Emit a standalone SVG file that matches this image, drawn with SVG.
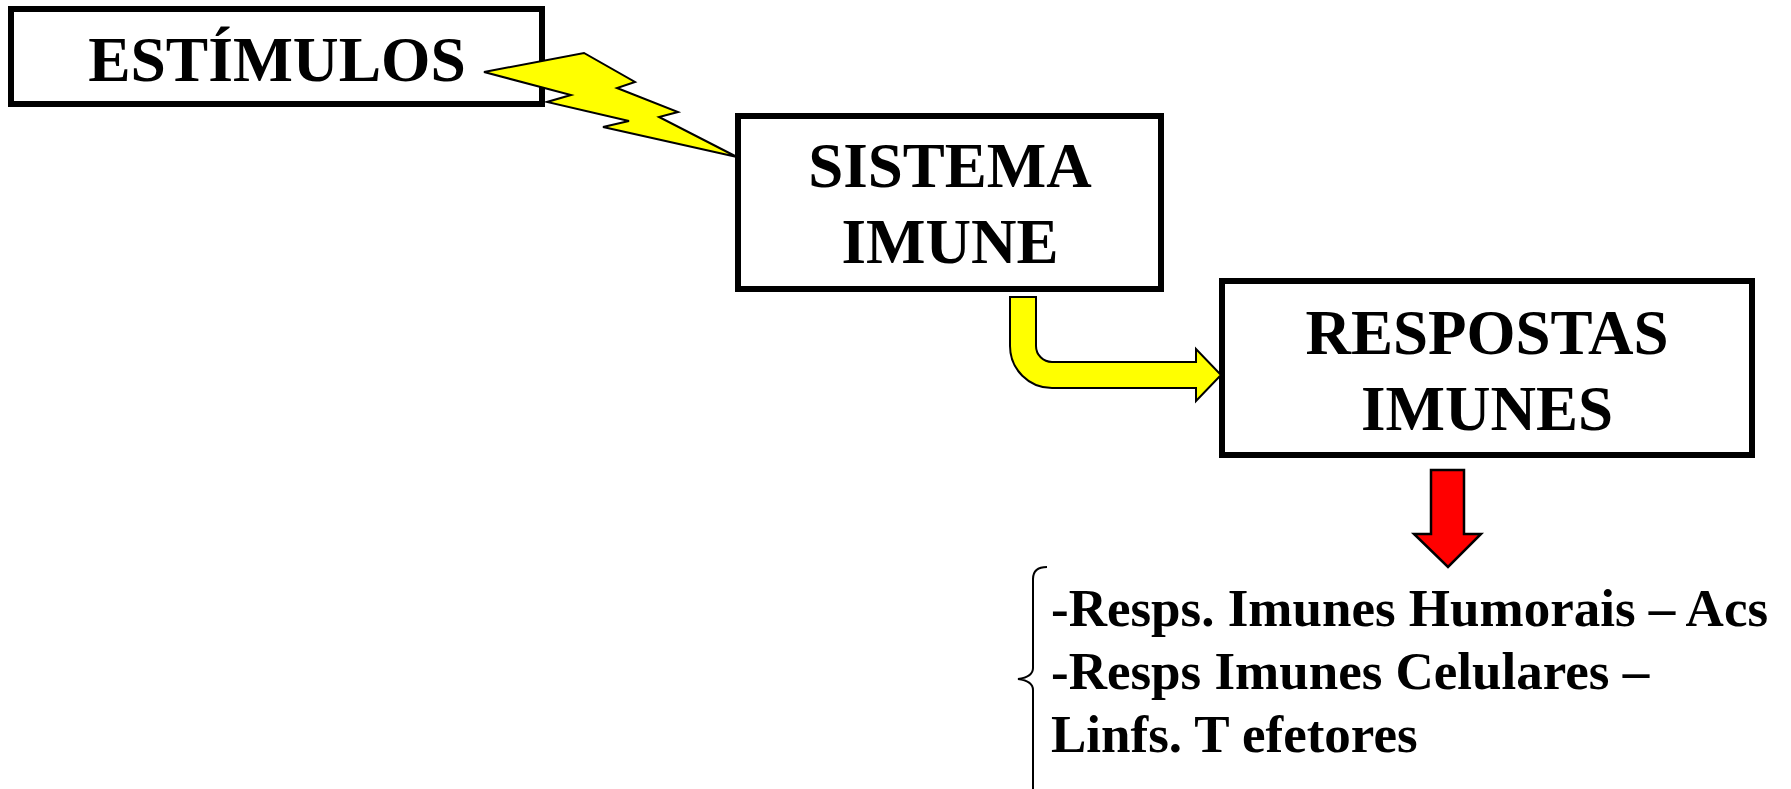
<svg xmlns="http://www.w3.org/2000/svg" width="1791" height="789" viewBox="0 0 1791 789">
  <style>
    .box { fill: #ffffff; stroke: #000000; stroke-width: 6; }
    .title { font-family: "Liberation Serif", "Times New Roman", serif; font-weight: bold; fill: #000000; text-anchor: middle; }
    .list { font-family: "Liberation Serif", "Times New Roman", serif; font-weight: bold; font-size: 53px; fill: #000000; }
    .bolt { fill: #ffff00; stroke: #000000; stroke-width: 2; stroke-linejoin: miter; }
    .bend { fill: #ffff00; stroke: #000000; stroke-width: 2; }
    .down { fill: #ff0000; stroke: #000000; stroke-width: 2.5; }
    .brace { fill: none; stroke: #000000; stroke-width: 2; }
  </style>
  <rect width="1791" height="789" fill="#ffffff"/>

  <g id="estimulos">
    <rect class="box" x="11" y="9" width="531" height="95"/>
    <text class="title" x="277" y="81" font-size="63.5">ESTÍMULOS</text>
  </g>

  <g id="sistema-imune">
    <rect class="box" x="738" y="116" width="423" height="173"/>
    <text class="title" x="950" y="187" font-size="63">SISTEMA</text>
    <text class="title" x="950" y="263" font-size="63">IMUNE</text>
  </g>

  <g id="respostas-imunes">
    <rect class="box" x="1222" y="281" width="530" height="174"/>
    <text class="title" x="1487" y="354" font-size="63">RESPOSTAS</text>
    <text class="title" x="1487" y="430" font-size="63">IMUNES</text>
  </g>

  <g id="connectors">
    <!-- lightning bolt from the stimuli box into the immune system box -->
    <polygon class="bolt" points="484,72 584,53 635,82 617,88 678,112 659,117 737,157 603,127 629,121 547,102 571,95"/>
    <!-- bent block arrow from the immune system down and across to the responses -->
    <path class="bend" d="M1010,297 H1036 V346 A16,16 0 0 0 1052,362 H1196 V349 L1221,375 L1196,401 V388 H1052 A42,42 0 0 1 1010,346 Z"/>
    <!-- downward arrow to the list of response types -->
    <path class="down" d="M1431,470 H1464 V534 H1481 L1448,567 L1414,534 H1431 Z"/>
  </g>

  <g id="response-list">
    <path class="brace" d="M1047,567 Q1033,567 1033,579 V668 Q1033,677 1018,679 Q1033,681 1033,690 V789"/>
    <text class="list" x="1051" y="626">-Resps. Imunes Humorais – Acs</text>
    <text class="list" x="1051" y="689">-Resps Imunes Celulares –</text>
    <text class="list" x="1051" y="752">Linfs. T efetores</text>
  </g>
</svg>
